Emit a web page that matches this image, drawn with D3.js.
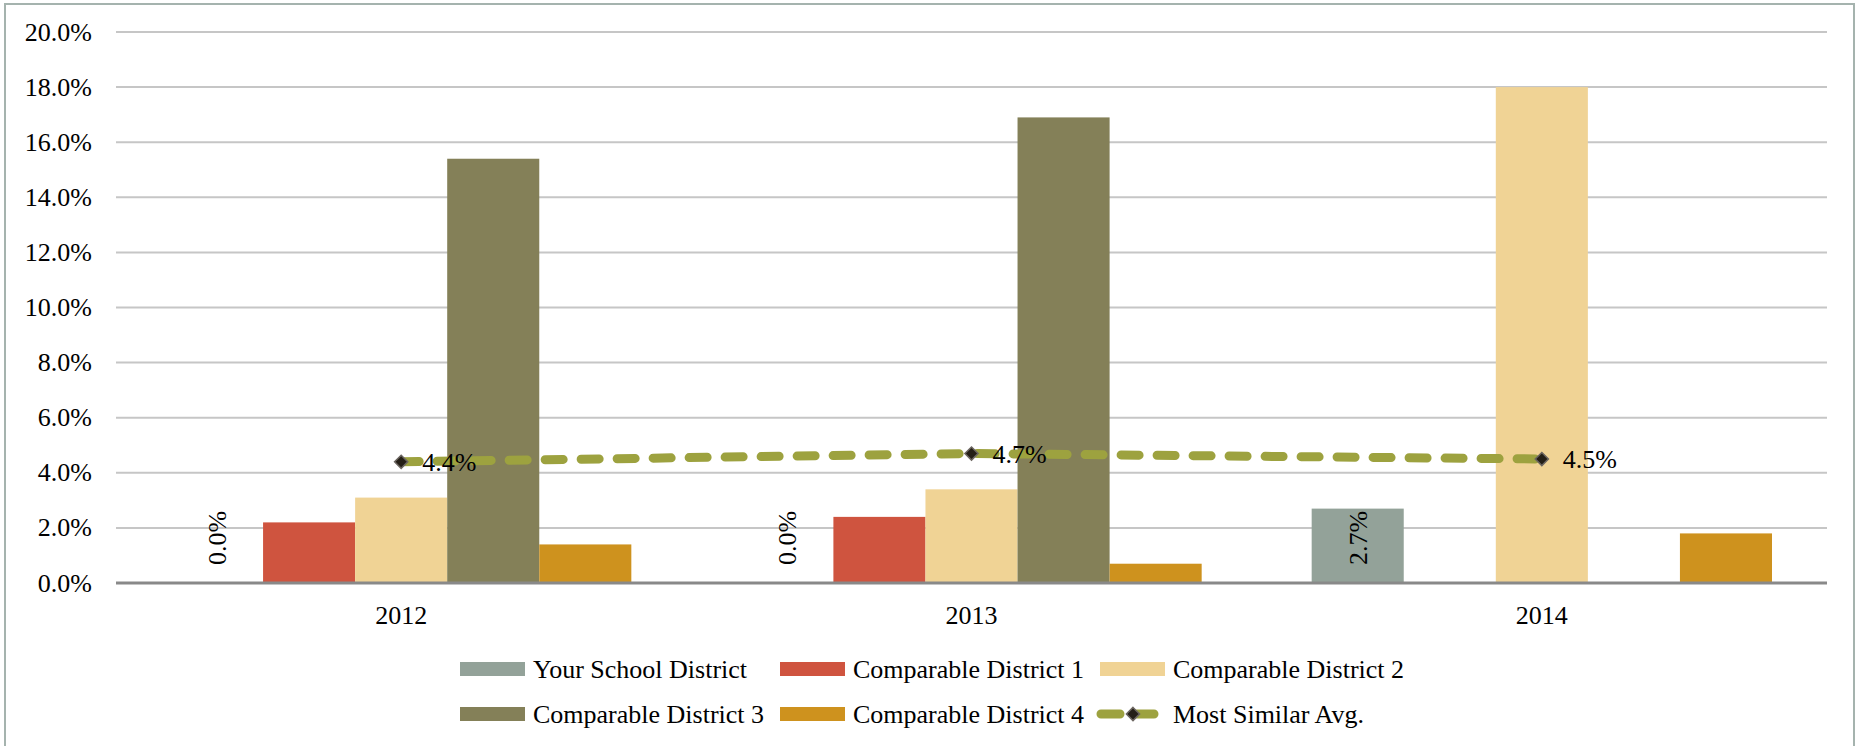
<!DOCTYPE html>
<html>
<head>
<meta charset="utf-8">
<script src="https://cdn.jsdelivr.net/npm/d3@7"></script>
<style>
  body { margin: 0; background: #fff; }
  svg text { font-family: "Liberation Serif", "Times New Roman", serif; fill: #000; }
</style>
</head>
<body>
<div id="chart"></div>
<script>
// chart values
const years = ['2012', '2013', '2014'];
const seriesNames = ['Your School District', 'Comparable District 1', 'Comparable District 2',
                     'Comparable District 3', 'Comparable District 4'];
const yourDistrict = [0.0, 0.0, 2.7];
const district1 = [2.2, 2.4, 0.0];
const district2 = [3.1, 3.4, 18.0];
const district3 = [15.4, 16.9, 0.0];
const district4 = [1.4, 0.7, 1.8];
const similarAvg = [4.4, 4.7, 4.5];
const lineName = 'Most Similar Avg.';
const yTicks = [0, 2, 4, 6, 8, 10, 12, 14, 16, 18, 20];

const colors = ['#93a299', '#cf543f', '#f0d395', '#848058', '#ce921e'];
const lineColor = '#9da23f';
const FONT = '"Liberation Serif", "Times New Roman", serif';

const config = {
  width: 1860,
  height: 746,
  margin: {top: 32, right: 33, bottom: 163, left: 116},
  fontSize: 26
};

const allSeries = [yourDistrict, district1, district2, district3, district4];

const svg = d3.select('#chart').append('svg')
  .attr('width', config.width)
  .attr('height', config.height)
  .attr('font-family', FONT);

// outer frame
svg.append('rect')
  .attr('x', 5).attr('y', 4)
  .attr('width', 1849).attr('height', 760)
  .attr('fill', 'none')
  .attr('stroke', '#a5b3ae')
  .attr('stroke-width', 2);

const innerW = config.width - config.margin.left - config.margin.right;
const innerH = config.height - config.margin.top - config.margin.bottom;

const chart = svg.append('g')
  .attr('transform', `translate(${config.margin.left},${config.margin.top})`);

const x0 = d3.scaleBand().domain(years).range([0, innerW]).padding(0);
const x1 = d3.scaleBand().domain(seriesNames)
  .range([55, x0.bandwidth() - 55]).padding(0);
const y = d3.scaleLinear().domain([0, 20]).range([innerH, 0]);

// small helper so every label gets the same serif face
function label(sel) {
  return sel.style('font-family', FONT).style('font-size', config.fontSize + 'px');
}

// gridlines
chart.selectAll('.grid')
  .data(yTicks.filter(d => d > 0))
  .join('line')
  .attr('class', 'grid')
  .attr('x1', 0).attr('x2', innerW)
  .attr('y1', d => y(d)).attr('y2', d => y(d))
  .attr('stroke', '#c6c6c6')
  .attr('stroke-width', 2);

// y tick labels
chart.selectAll('.ytick')
  .data(yTicks)
  .join('text')
  .attr('class', 'ytick')
  .attr('x', -24)
  .attr('y', d => y(d))
  .attr('dy', '0.33em')
  .attr('text-anchor', 'end')
  .call(label)
  .text(d => d.toFixed(1) + '%');

// bars
const barData = [];
years.forEach((yr, i) => {
  seriesNames.forEach((s, j) => {
    barData.push({year: yr, series: s, value: allSeries[j][i], color: colors[j]});
  });
});

chart.selectAll('.bar')
  .data(barData)
  .join('rect')
  .attr('class', 'bar')
  .attr('x', d => x0(d.year) + x1(d.series))
  .attr('width', x1.bandwidth())
  .attr('y', d => y(d.value))
  .attr('height', d => y(0) - y(d.value))
  .attr('fill', d => d.color);

// rotated labels on Your School District
chart.selectAll('.bar-label')
  .data(years.map((yr, i) => ({year: yr, value: yourDistrict[i]})))
  .join('text')
  .attr('class', 'bar-label')
  .attr('transform', d => {
    const cx = x0(d.year) + x1(seriesNames[0]) + x1.bandwidth() / 2;
    return `translate(${cx},${y(0) - 18}) rotate(-90)`;
  })
  .attr('dy', '0.35em')
  .call(label)
  .text(d => d.value.toFixed(1) + '%');

// x axis line
chart.append('line')
  .attr('x1', 0).attr('x2', innerW)
  .attr('y1', y(0)).attr('y2', y(0))
  .attr('stroke', '#898989')
  .attr('stroke-width', 3);

// x labels
chart.selectAll('.xlabel')
  .data(years)
  .join('text')
  .attr('class', 'xlabel')
  .attr('x', d => x0(d) + x0.bandwidth() / 2)
  .attr('y', y(0) + 41)
  .attr('text-anchor', 'middle')
  .call(label)
  .text(d => d);

// average line
const linePts = years.map((yr, i) => ({year: yr, value: similarAvg[i]}));
const lineGen = d3.line()
  .x(d => x0(d.year) + x0.bandwidth() / 2)
  .y(d => y(d.value));

chart.append('path')
  .datum(linePts)
  .attr('d', lineGen)
  .attr('fill', 'none')
  .attr('stroke', lineColor)
  .attr('stroke-width', 9)
  .attr('stroke-linecap', 'round')
  .attr('stroke-dasharray', '18,18');

const diamond = d3.symbol().type(d3.symbolDiamond2).size(110);

chart.selectAll('.marker')
  .data(linePts)
  .join('path')
  .attr('class', 'marker')
  .attr('d', diamond)
  .attr('transform', d => `translate(${x0(d.year) + x0.bandwidth() / 2},${y(d.value)})`)
  .attr('fill', '#241f17')
  .attr('stroke', '#6b6560')
  .attr('stroke-width', 1.5);

chart.selectAll('.line-label')
  .data(linePts)
  .join('text')
  .attr('class', 'line-label')
  .attr('x', d => x0(d.year) + x0.bandwidth() / 2 + 21)
  .attr('y', d => y(d.value))
  .attr('dy', '0.35em')
  .call(label)
  .text(d => d.value.toFixed(1) + '%');

// legend
const legendLeft = 460, legendTop = 669, colW = 320, rowH = 45;
const legendItems = seriesNames.map((s, i) => ({name: s, color: colors[i], type: 'bar'}))
  .concat([{name: lineName, color: lineColor, type: 'line'}]);

const legend = svg.append('g').attr('class', 'legend');
const item = legend.selectAll('.legend-item')
  .data(legendItems)
  .join('g')
  .attr('class', 'legend-item')
  .attr('transform', (d, i) => `translate(${legendLeft + (i % 3) * colW},${legendTop + Math.floor(i / 3) * rowH})`);

item.filter(d => d.type === 'bar')
  .append('rect')
  .attr('x', 0).attr('y', -7)
  .attr('width', 65).attr('height', 14)
  .attr('fill', d => d.color);

const lineItem = item.filter(d => d.type === 'line');
lineItem.append('line')
  .attr('x1', 1).attr('x2', 54)
  .attr('y1', 0).attr('y2', 0)
  .attr('stroke', lineColor)
  .attr('stroke-width', 9)
  .attr('stroke-linecap', 'round')
  .attr('stroke-dasharray', '19,17');
lineItem.append('path')
  .attr('d', diamond)
  .attr('transform', 'translate(33,0)')
  .attr('fill', '#241f17')
  .attr('stroke', '#6b6560')
  .attr('stroke-width', 1.5);

item.append('text')
  .attr('x', 73)
  .attr('y', 0)
  .attr('dy', '0.33em')
  .call(label)
  .text(d => d.name);
</script>
</body>
</html>
